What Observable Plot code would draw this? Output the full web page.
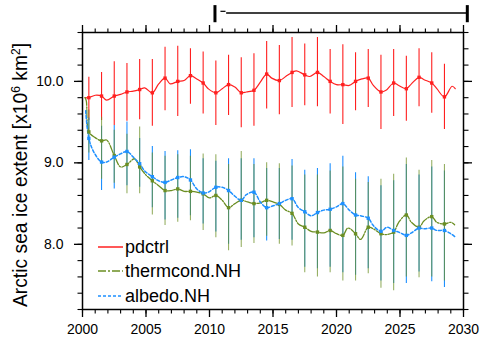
<!DOCTYPE html>
<html><head><meta charset="utf-8">
<script src="https://cdn.jsdelivr.net/npm/d3@7"></script>
<script src="https://cdn.jsdelivr.net/npm/@observablehq/plot@0.6"></script>
<style>
body{margin:0;background:#fff;}
#wrap{position:relative;width:480px;height:342px;font-family:"Liberation Sans",Arial,sans-serif;color:#000;}
#ylab{position:absolute;left:21px;top:175px;transform:translate(-50%,-50%) rotate(-90deg);white-space:nowrap;font-size:19.3px;}
#ylab sup{font-size:12px;vertical-align:7px;line-height:0;}
.leg{position:absolute;left:98px;font-size:18px;white-space:nowrap;display:flex;align-items:center;height:24px;}
.leg svg{margin-right:2px;}
</style></head><body>
<div id="wrap"><div id="chart"></div>
<div id="ylab">Arctic sea ice extent [x10<sup>6</sup> km<sup>2</sup>]</div>
<div class="leg" style="top:235px"><svg width="25" height="6"><line x1="0" x2="25" y1="3" y2="3" stroke="#ff2020" stroke-width="1.5"/></svg>pdctrl</div>
<div class="leg" style="top:259px"><svg width="25" height="6"><line x1="0" x2="25" y1="3" y2="3" stroke="#6b8e23" stroke-width="1.5" stroke-dasharray="8,2,2,2"/></svg>thermcond.NH</div>
<div class="leg" style="top:284px"><svg width="25" height="6"><line x1="0" x2="25" y1="3" y2="3" stroke="#1e90ff" stroke-width="1.5" stroke-dasharray="3,2"/></svg>albedo.NH</div>
</div>
<script>
// ---- data ----
const markerYears = d3.range(2000.5, 2029, 1);
const redMarkers   = [9.80,9.82,9.82,9.87,9.90,9.86,10.04,10.00,10.07,9.98,9.86,9.96,9.86,9.89,10.09,10.01,10.11,10.08,10.11,10.00,9.96,10.00,10.04,9.87,9.98,9.91,10.05,9.98,9.81];
const greenMarkers = [9.38,9.27,9.09,8.98,8.95,8.78,8.66,8.68,8.65,8.62,8.60,8.45,8.54,8.50,8.54,8.49,8.38,8.21,8.15,8.17,8.11,8.13,8.21,8.13,8.15,8.36,8.21,8.34,8.25];
const blueMarkers  = [9.30,9.01,9.07,9.14,8.99,8.83,8.76,8.82,8.79,8.63,8.70,8.66,8.54,8.64,8.45,8.50,8.56,8.40,8.39,8.43,8.50,8.36,8.32,8.16,8.17,8.11,8.20,8.20,8.17];

const redMidYears = [2000.2,2001.0,2001.9,2003.0,2004.0,2004.9,2006.0,2006.9,2008.0,2009.0,2009.9,2011.0,2012.0,2012.9,2014.0,2014.9,2016.0,2016.85,2017.9,2019.0,2020.0,2021.0,2022.0,2022.9,2023.9,2024.9,2025.9,2026.9,2027.9,2029.1,2029.35];
const redMid      = [9.80,9.83,9.77,9.84,9.88,9.92,9.97,9.97,10.01,10.03,9.91,9.91,9.93,9.87,9.99,10.04,10.06,10.13,10.06,10.06,9.96,9.95,10.03,9.95,9.89,9.95,9.97,10.02,9.91,9.94,9.91];
const greenMidYears = [2000.2,2000.3,2001.0,2001.9,2003.0,2004.1,2005.0,2006.0,2007.0,2008.0,2009.0,2010.0,2011.0,2012.0,2013.0,2014.0,2015.0,2016.0,2017.0,2018.0,2019.0,2020.0,2020.9,2021.9,2022.9,2024.0,2024.9,2025.9,2026.9,2027.9,2029.0,2029.3];
const greenMid      = [9.80,9.76,9.31,9.28,8.95,9.05,8.85,8.72,8.66,8.65,8.64,8.57,8.54,8.50,8.52,8.51,8.52,8.42,8.25,8.16,8.14,8.13,8.20,8.06,8.19,8.12,8.27,8.27,8.29,8.27,8.27,8.24];
const blueMidYears = [2000.25,2000.9,2001.9,2003.0,2004.0,2004.9,2006.0,2007.0,2008.0,2009.0,2009.9,2011.0,2012.0,2012.9,2014.0,2014.95,2016.0,2017.0,2018.0,2019.0,2020.0,2021.0,2021.9,2022.9,2024.0,2024.9,2025.9,2026.9,2027.9,2029.0,2029.35];
const blueMid      = [9.64,9.13,9.01,9.11,9.07,8.90,8.78,8.79,8.83,8.68,8.64,8.70,8.59,8.61,8.52,8.47,8.54,8.45,8.35,8.42,8.46,8.42,8.35,8.23,8.21,8.15,8.14,8.19,8.17,8.13,8.09];

const redHi = [10.05,10.11,10.24,10.22,10.27,10.27,10.42,10.43,10.40,10.36,10.25,10.32,10.29,10.34,10.49,10.44,10.54,10.46,10.54,10.39,10.45,10.35,10.39,10.32,10.39,10.31,10.40,10.35,10.21];
const redLo = [9.52,9.52,9.46,9.51,9.53,9.45,9.64,9.57,9.72,9.60,9.46,9.58,9.43,9.45,9.66,9.59,9.68,9.70,9.69,9.60,9.47,9.64,9.68,9.41,9.57,9.51,9.69,9.61,9.41];
const greenHi = [9.65,9.56,9.40,9.35,9.44,9.12,9.08,9.10,9.08,9.11,9.10,8.98,9.14,8.98,9.00,8.99,8.96,8.85,8.85,8.90,8.95,8.80,8.76,8.80,8.86,9.06,8.91,9.03,8.98];
const greenLo = [9.12,8.80,8.75,8.62,8.62,8.36,8.23,8.27,8.29,8.17,8.08,7.92,7.96,8.01,8.10,8.00,7.98,7.65,7.60,7.65,7.55,7.55,7.64,7.46,7.43,7.60,7.59,7.60,7.55];
const blueHi = [9.55,9.45,9.46,9.50,9.30,9.20,9.14,9.15,9.16,9.05,9.02,9.05,9.05,9.05,8.93,8.93,9.04,8.91,8.93,8.99,9.08,8.88,8.83,8.72,8.78,8.98,8.85,8.95,8.90];
const blueLo = [9.03,8.66,8.68,8.72,8.70,8.45,8.30,8.32,8.35,8.25,8.15,8.00,8.05,8.08,8.04,8.06,8.05,7.72,7.70,7.72,7.65,7.62,7.70,7.55,7.52,7.52,7.66,7.54,7.47];

const majorX = d3.range(2000, 2031, 5);
const minorX = d3.range(2000, 2031, 1);
const majorY = [8, 9, 10];
const minorY = d3.range(7.2, 10.61, 0.2).map(v => +v.toFixed(1));

const bracketYears = [2010.43, 2030.3];
const bracketSpan = [2011.35, 2030.25];
const bracketLevel = 10.84;
const bracketEnds = [10.72, 10.93];
const bracketDash = [2010.9, 2011.3];
const bracketDashLevel = 10.86;

// ---- build tables ----
const merge = (ys, vs, my, mv) => ys.map((x, i) => ({x, v: vs[i]})).concat(my.map((x, i) => ({x, v: mv[i]}))).sort((a, b) => a.x - b.x);
const redLine = merge(markerYears, redMarkers, redMidYears, redMid);
const greenLine = merge(markerYears, greenMarkers, greenMidYears, greenMid);
const blueLine = merge(markerYears, blueMarkers, blueMidYears, blueMid);
const err = (hi, lo) => markerYears.map((x, i) => ({x, hi: hi[i], lo: lo[i]}));
const pts = (vs) => markerYears.map((x, i) => ({x, v: vs[i]}));

const RED = "#ff2020", GREEN = "#6b8e23", BLUE = "#1e90ff";

const chart = Plot.plot({
  width: 480, height: 342,
  marginLeft: 82, marginRight: 17, marginTop: 32, marginBottom: 33,
  style: {fontFamily: "'Liberation Sans', Arial, sans-serif", fontSize: "14px", color: "black", background: "white", overflow: "visible"},
  x: {domain: [2000, 2030]},
  y: {domain: [7.2, 10.6]},
  marks: [
    Plot.ruleX(err(redHi, redLo), {x: "x", y1: "lo", y2: "hi", stroke: RED, strokeWidth: 1.1}),
    Plot.ruleX(err(blueHi, blueLo), {x: "x", y1: "lo", y2: "hi", stroke: BLUE, strokeWidth: 1.1}),
    Plot.ruleX(err(greenHi, greenLo), {x: "x", y1: "lo", y2: "hi", stroke: GREEN, strokeOpacity: 0.7, strokeWidth: 1.1}),
    Plot.line(redLine, {x: "x", y: "v", stroke: RED, strokeWidth: 1.2, curve: "catmull-rom"}),
    Plot.line(greenLine, {x: "x", y: "v", stroke: GREEN, strokeWidth: 1.3, strokeDasharray: "8,1.5,1.5,1.5", curve: "catmull-rom"}),
    Plot.line(blueLine, {x: "x", y: "v", stroke: BLUE, strokeWidth: 1.5, strokeDasharray: "3,2", curve: "catmull-rom"}),
    Plot.dot(pts(redMarkers), {x: "x", y: "v", symbol: "square", r: 1.9, fill: RED}),
    Plot.dot(pts(greenMarkers), {x: "x", y: "v", symbol: "square", r: 1.9, fill: GREEN}),
    Plot.dot(pts(blueMarkers), {x: "x", y: "v", symbol: "square", r: 1.9, fill: BLUE}),
    Plot.frame({stroke: "black", strokeWidth: 1.5}),
    Plot.axisX({anchor: "bottom", ticks: majorX, tickSize: 8, tickPadding: 7, tickFormat: d => String(d), label: null, strokeWidth: 1.3}),
    Plot.axisX({anchor: "bottom", ticks: minorX, tickSize: 4.5, tickFormat: () => "", label: null, strokeWidth: 1.1}),
    Plot.axisX({anchor: "top", ticks: majorX, tickSize: 8, tickFormat: () => "", label: null, strokeWidth: 1.3}),
    Plot.axisX({anchor: "top", ticks: minorX, tickSize: 4.5, tickFormat: () => "", label: null, strokeWidth: 1.1}),
    Plot.axisY({anchor: "left", ticks: majorY, tickSize: 8, tickPadding: 11, tickFormat: d => d.toFixed(1), label: null, strokeWidth: 1.3}),
    Plot.axisY({anchor: "left", ticks: minorY, tickSize: 4.5, tickFormat: () => "", label: null, strokeWidth: 1.1}),
    Plot.axisY({anchor: "right", ticks: majorY, tickSize: 8, tickFormat: () => "", label: null, strokeWidth: 1.3}),
    Plot.axisY({anchor: "right", ticks: minorY, tickSize: 4.5, tickFormat: () => "", label: null, strokeWidth: 1.1}),
    Plot.ruleX(bracketYears, {x: d => d, y1: bracketEnds[0], y2: bracketEnds[1], stroke: "black", strokeWidth: 3}),
    Plot.ruleY([bracketLevel], {y: d => d, x1: bracketSpan[0], x2: bracketSpan[1], stroke: "black", strokeWidth: 1.6}),
    Plot.ruleY([bracketDashLevel], {y: d => d, x1: bracketDash[0], x2: bracketDash[1], stroke: "black", strokeWidth: 1.2})
  ]
});
document.getElementById("chart").appendChild(chart);
</script>
</body></html>
